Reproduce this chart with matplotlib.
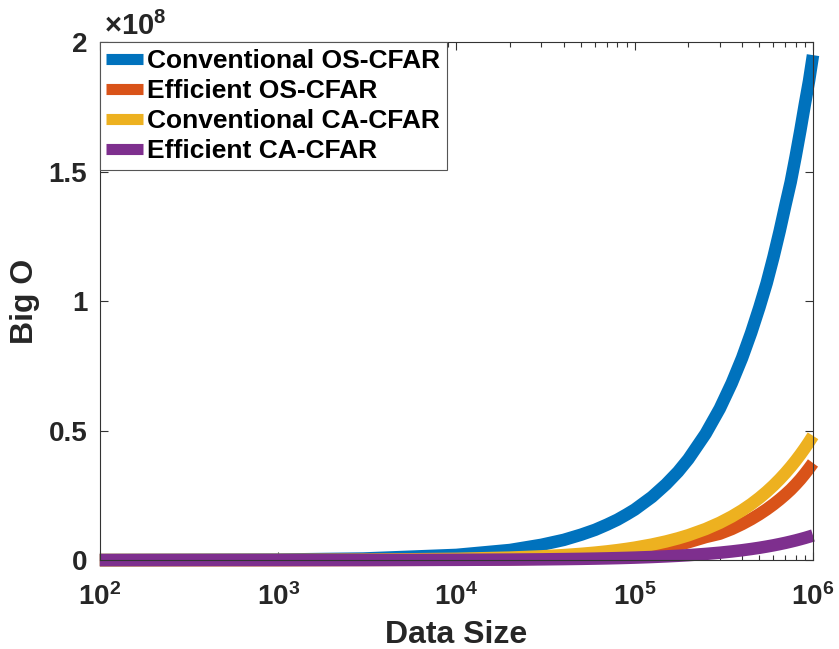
import matplotlib
matplotlib.use("Agg")
import matplotlib.pyplot as plt
import numpy as np

plt.rcParams["font.family"] = ["Liberation Sans", "DejaVu Sans"]
plt.rcParams["font.weight"] = "bold"
plt.rcParams["mathtext.fontset"] = "custom"
plt.rcParams["mathtext.rm"] = "Liberation Sans"
plt.rcParams["mathtext.bf"] = "Liberation Sans:bold"

# values
data_size = [1e2, 1e3, 3e3, 1e4, 2e4, 3e4, 4e4, 5e4, 6e4, 7e4, 8e4, 9e4,
             1e5, 1.25e5, 1.5e5, 1.75e5, 2e5, 2.5e5, 3e5, 3.5e5, 4e5, 4.5e5,
             5e5, 5.5e5, 6e5, 6.5e5, 7e5, 7.5e5, 8e5, 8.5e5, 9e5, 9.5e5, 1e6]
conv_os = [2.0e4, 2.0e5, 6.0e5, 2.0e6, 3.9e6, 5.9e6, 7.8e6, 9.8e6, 1.17e7,
           1.37e7, 1.56e7, 1.76e7, 1.95e7, 2.44e7, 2.93e7, 3.41e7, 3.9e7,
           4.88e7, 5.85e7, 6.83e7, 7.8e7, 8.78e7, 9.75e7, 1.07e8, 1.17e8,
           1.27e8, 1.37e8, 1.46e8, 1.56e8, 1.66e8, 1.76e8, 1.85e8, 1.95e8]
eff_os = [1.0e3, 1.2e4, 4.0e4, 1.5e5, 3.3e5, 5.4e5, 8.0e5, 1.1e6, 1.4e6,
          1.8e6, 2.2e6, 2.55e6, 2.9e6, 3.8e6, 4.9e6, 5.9e6, 6.9e6, 8.9e6,
          1.02e7, 1.2e7, 1.39e7, 1.58e7, 1.77e7, 1.96e7, 2.15e7, 2.34e7,
          2.53e7, 2.72e7, 2.92e7, 3.12e7, 3.33e7, 3.54e7, 3.75e7]
conv_ca = [4.8e3, 4.8e4, 1.44e5, 4.8e5, 9.6e5, 1.44e6, 1.92e6, 2.4e6,
           2.88e6, 3.36e6, 3.84e6, 4.32e6, 4.8e6, 6.0e6, 7.2e6, 8.4e6, 9.6e6,
           1.2e7, 1.44e7, 1.68e7, 1.92e7, 2.16e7, 2.4e7, 2.64e7, 2.88e7,
           3.12e7, 3.36e7, 3.6e7, 3.84e7, 4.08e7, 4.32e7, 4.56e7, 4.8e7]
eff_ca = [9.5e2, 9.5e3, 2.85e4, 9.5e4, 1.9e5, 2.85e5, 3.8e5, 4.75e5, 5.7e5,
          6.65e5, 7.6e5, 8.55e5, 9.5e5, 1.19e6, 1.43e6, 1.66e6, 1.9e6,
          2.38e6, 2.85e6, 3.33e6, 3.8e6, 4.28e6, 4.75e6, 5.23e6, 5.7e6,
          6.18e6, 6.65e6, 7.13e6, 7.6e6, 8.08e6, 8.55e6, 9.03e6, 9.5e6]

series_names = ["Conventional OS-CFAR", "Efficient OS-CFAR",
                "Conventional CA-CFAR", "Efficient CA-CFAR"]
series_values = [conv_os, eff_os, conv_ca, eff_ca]
colors = ["#0072BD", "#D95319", "#EDB120", "#7E2F8E"]

x_ticks = [1e2, 1e3, 1e4, 1e5, 1e6]
x_tick_labels = [r"$\mathbf{10^{2}}$", r"$\mathbf{10^{3}}$", r"$\mathbf{10^{4}}$",
                 r"$\mathbf{10^{5}}$", r"$\mathbf{10^{6}}$"]
y_ticks = [0, 0.5, 1, 1.5, 2]
y_tick_labels = ["0", "0.5", "1", "1.5", "2"]
scale = 1e8

fig = plt.figure(figsize=(8.39, 6.49), dpi=100)
ax = fig.add_axes([0.119, 0.137, 0.850, 0.798])

for name, vals, c in zip(series_names, series_values, colors):
    ax.plot(data_size, np.array(vals) / scale, color=c, lw=9,
            label=name, solid_capstyle="butt", solid_joinstyle="round",
            clip_on=False)

ax.set_xscale("log")
ax.set_xlim(1e2, 1e6)
ax.set_ylim(0, 2)
ax.set_xticks(x_ticks)
ax.set_xticklabels(x_tick_labels)
ax.set_yticks(y_ticks)
ax.set_yticklabels(y_tick_labels)

ax.tick_params(axis="both", which="both", direction="in", top=True,
               right=True, labelsize=20, color="#333333", labelcolor="#262626")
ax.tick_params(axis="both", which="major", length=6, width=0.8)
ax.tick_params(axis="x", which="minor", length=3.5, width=0.8)
ax.tick_params(axis="x", which="major", pad=17)
ax.tick_params(axis="y", which="major", pad=9)
for sp in ax.spines.values():
    sp.set_color("#333333")
    sp.set_linewidth(0.8)

ax.set_xlabel("Data Size", fontsize=23, fontweight="bold", color="#262626",
              labelpad=6)
ax.set_ylabel("Big O", fontsize=23, fontweight="bold", color="#262626",
              labelpad=6)
ax.text(0.006, 1.013, r"$\times\mathbf{10^{8}}$", transform=ax.transAxes,
        fontsize=21, color="#262626", ha="left", va="baseline")

leg = ax.legend(loc="upper left", borderaxespad=0, fontsize=19,
                handlelength=1.4, handletextpad=0.15, borderpad=0.25,
                labelspacing=0.23, fancybox=False, framealpha=1)
leg.get_frame().set_edgecolor("#555555")
leg.get_frame().set_linewidth(0.8)
for line in leg.get_lines():
    line.set_linewidth(8)

fig.savefig("out.png", dpi=100)
